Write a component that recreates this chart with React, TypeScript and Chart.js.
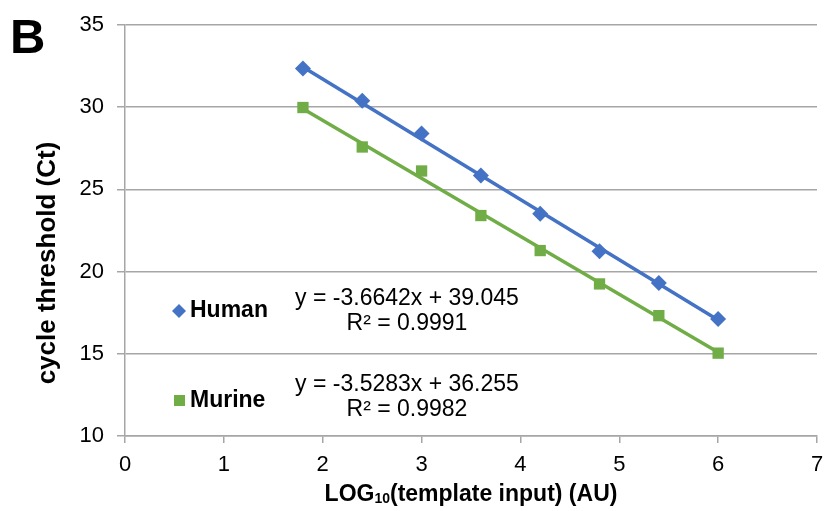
import React, { useEffect, useRef } from "react";
import { Chart, registerables } from "chart.js";

Chart.register(...registerables);

// ---- data ----
const logInput = [1.8, 2.4, 3.0, 3.6, 4.2, 4.8, 5.4, 6.0];
const humanCt = [32.36, 30.39, 28.4, 25.85, 23.52, 21.24, 19.31, 17.11];
const murineCt = [29.98, 27.58, 26.12, 23.41, 21.28, 19.25, 17.32, 15.04];
const fitX = [1.8, 6.0];
const humanFit = [32.45, 17.06];
const murineFit = [29.9, 15.09];
const xTicks = [0, 1, 2, 3, 4, 5, 6, 7];
const yTicks = [10, 15, 20, 25, 30, 35];
const humanEq = "y = -3.6642x + 39.045";
const humanR2 = "R² = 0.9991";
const murineEq = "y = -3.5283x + 36.255";
const murineR2 = "R² = 0.9982";
const seriesNames = ["Human", "Murine"];

const BLUE = "#4472C4";
const GREEN = "#70AD47";
const FONT = '"Liberation Sans", Arial, Helvetica, sans-serif';

const pts = (xs: number[], ys: number[]) => xs.map((x, i) => ({ x, y: ys[i] }));

const overlay = {
  id: "overlay",
  afterDraw(chart: any) {
    const ctx = chart.ctx as CanvasRenderingContext2D;
    const area = chart.chartArea;
    ctx.save();
    ctx.fillStyle = "#000";
    ctx.textBaseline = "middle";

    // panel letter
    ctx.font = `bold 49px ${FONT}`;
    ctx.textAlign = "left";
    ctx.fillText("B", 10, 39);

    // y title
    ctx.save();
    ctx.translate(48, 263);
    ctx.rotate(-Math.PI / 2);
    ctx.font = `bold 26px ${FONT}`;
    ctx.textAlign = "center";
    ctx.fillText("cycle threshold (Ct)", 0, 0);
    ctx.restore();

    // x title with subscript
    const p1 = "LOG";
    const p2 = "10";
    const p3 = "(template input) (AU)";
    ctx.font = `bold 23px ${FONT}`;
    const w1 = ctx.measureText(p1).width;
    const w3 = ctx.measureText(p3).width;
    ctx.font = `bold 14px ${FONT}`;
    const w2 = ctx.measureText(p2).width;
    const total = w1 + w2 + w3;
    const cx = (area.left + area.right) / 2;
    let x0 = cx - total / 2;
    const ty = 495;
    ctx.textAlign = "left";
    ctx.font = `bold 23px ${FONT}`;
    ctx.fillText(p1, x0, ty);
    x0 += w1;
    ctx.font = `bold 14px ${FONT}`;
    ctx.fillText(p2, x0, ty + 4);
    x0 += w2;
    ctx.font = `bold 23px ${FONT}`;
    ctx.fillText(p3, x0, ty);

    // legend entries
    ctx.fillStyle = BLUE;
    ctx.beginPath();
    ctx.moveTo(179, 304);
    ctx.lineTo(186, 311);
    ctx.lineTo(179, 318);
    ctx.lineTo(172, 311);
    ctx.closePath();
    ctx.fill();
    ctx.fillStyle = GREEN;
    ctx.fillRect(174, 395, 11, 11);

    ctx.fillStyle = "#000";
    ctx.font = `bold 23px ${FONT}`;
    ctx.textAlign = "left";
    ctx.fillText(seriesNames[0], 190, 311);
    ctx.fillText(seriesNames[1], 190, 401);

    // equations
    ctx.font = `23px ${FONT}`;
    ctx.textAlign = "center";
    ctx.fillText(humanEq, 407, 299);
    ctx.fillText(humanR2, 407, 324);
    ctx.fillText(murineEq, 407, 385);
    ctx.fillText(murineR2, 407, 410);
    ctx.restore();
  },
};

export default function App() {
  const ref = useRef<HTMLCanvasElement>(null);
  useEffect(() => {
    if (!ref.current) return;
    const chart = new Chart(ref.current, {
      type: "scatter",
      data: {
        datasets: [
          {
            label: seriesNames[0],
            data: pts(logInput, humanCt),
            pointStyle: "rectRot",
            pointRadius: 8,
            backgroundColor: BLUE,
            borderColor: BLUE,
            borderWidth: 0,
            showLine: false,
            order: 0,
          },
          {
            label: seriesNames[1],
            data: pts(logInput, murineCt),
            pointStyle: "rect",
            pointRadius: 8,
            backgroundColor: GREEN,
            borderColor: GREEN,
            borderWidth: 0,
            showLine: false,
            order: 0,
          },
          {
            label: "Human fit",
            type: "line",
            data: pts(fitX, humanFit),
            borderColor: BLUE,
            borderWidth: 3.5,
            pointRadius: 0,
            order: 1,
          },
          {
            label: "Murine fit",
            type: "line",
            data: pts(fitX, murineFit),
            borderColor: GREEN,
            borderWidth: 3.5,
            pointRadius: 0,
            order: 1,
          },
        ] as any,
      },
      options: {
        responsive: false,
        animation: false,
        layout: { padding: { left: 0, right: 7, top: 25, bottom: 0 } },
        plugins: { legend: { display: false }, tooltip: { enabled: false } },
        scales: {
          x: {
            type: "linear",
            min: 0,
            max: 7,
            afterBuildTicks: (s: any) => {
              s.ticks = xTicks.map((v) => ({ value: v }));
            },
            afterFit: (s: any) => {
              s.height = 75;
              s.paddingLeft = 0;
              s.paddingRight = 0;
            },
            ticks: {
              color: "#000",
              font: { family: FONT, size: 22 },
              padding: 9,
            },
            grid: {
              drawOnChartArea: false,
              drawTicks: true,
              tickLength: 7,
              color: "#a6a6a6",
              lineWidth: 1.5,
            },
            border: { display: true, color: "#a6a6a6", width: 1.5 },
          },
          y: {
            type: "linear",
            min: 10,
            max: 35,
            afterBuildTicks: (s: any) => {
              s.ticks = yTicks.map((v) => ({ value: v }));
            },
            afterFit: (s: any) => {
              s.width = 125;
              s.paddingTop = 0;
              s.paddingBottom = 0;
            },
            ticks: {
              color: "#000",
              font: { family: FONT, size: 22 },
              padding: 13,
            },
            grid: {
              drawOnChartArea: true,
              drawTicks: true,
              tickLength: 8,
              color: "#a6a6a6",
              lineWidth: 1.5,
            },
            border: { display: true, color: "#a6a6a6", width: 1.5 },
          },
        },
      },
      plugins: [overlay],
    });
    return () => chart.destroy();
  }, []);
  return (
    <div style={{ position: "absolute", left: 0, top: 0, width: 825, height: 511, background: "#fff" }}>
      <canvas ref={ref} width={825} height={511} />
    </div>
  );
}
